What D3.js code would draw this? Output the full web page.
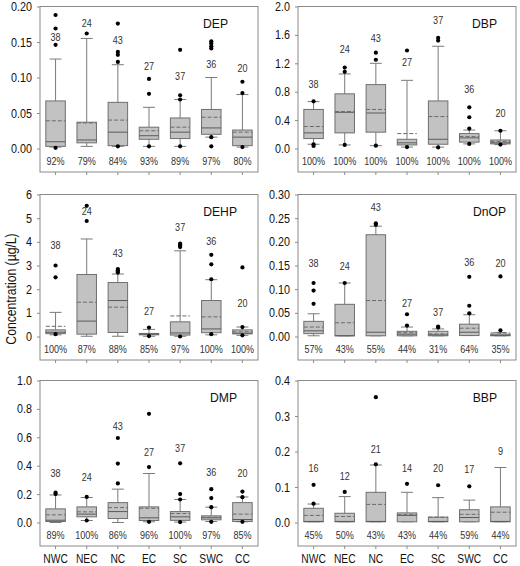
<!DOCTYPE html>
<html><head><meta charset="utf-8">
<script src="https://cdn.jsdelivr.net/npm/d3@7"></script>
<style>body{margin:0;background:#fff}svg{display:block}text{font-family:"Liberation Sans",Arial,sans-serif}</style>
</head><body>
<script>
// ---------- DATA ----------
const categories = ["NWC","NEC","NC","EC","SC","SWC","CC"];
const compounds = ["DEP","DBP","DEHP","DnOP","DMP","BBP"];
const yMax = [0.20, 2.0, 6, 0.30, 1.0, 0.4];
const yStep = [0.05, 0.4, 1, 0.05, 0.2, 0.1];
const yFormat = [".2f", ".1f", "d", ".2f", ".1f", ".1f"];

// each row: [whiskerLow, Q1, median, Q3, whiskerHigh, mean]
const depBox = [[0.002,0.003,0.0095,0.067,0.126,0.039],[0.003,0.008,0.012,0.037,0.155,0.036],[0.003,0.004,0.023,0.065,0.118,0.040],[0.003,0.013,0.018,0.030,0.058,0.025],[0.003,0.014,0.023,0.043,0.069,0.030],[0.016,0.020,0.029,0.055,0.100,0.044],[0.002,0.004,0.016,0.026,0.076,0.023]];
const depOut = [[0.188,0.169,0.146,0.001],[0.162],[0.176,0.136,0.132,0.122,0.003],[0.098,0.077,0.003],[0.139,0.075,0.069,0.003],[0.151,0.148,0.144,0.141,0.016,0.003],[0.094,0.078,0.002]];
const depN = [38,24,43,27,37,36,20];
const depNY = [0.157,0.177,0.152,0.116,0.102,0.118,0.113];
const depPct = [92,79,84,93,89,97,80];

const dbpBox = [[0.06,0.14,0.22,0.55,0.66,0.31],[0.05,0.22,0.51,0.77,1.05,0.52],[0.04,0.23,0.50,0.90,1.20,0.55],[0.02,0.05,0.08,0.13,0.96,0.21],[0.02,0.06,0.13,0.67,1.44,0.45],[0.065,0.09,0.15,0.21,0.26,0.17],[0.055,0.065,0.08,0.12,0.25,0.10]];
const dbpOut = [[0.665,0.06,0.035],[1.14,1.08,0.05],[1.35,1.25,0.04],[1.38,0.02],[1.56,1.52,0.015],[0.58,0.44,0.28,0.065],[0.25,0.055]];
const dbpN = [38,24,43,27,37,36,20];
const dbpNY = [0.90,1.40,1.55,1.21,1.80,0.83,0.50];
const dbpPct = [100,100,100,100,100,100,100];

const dehpBox = [[0.07,0.12,0.18,0.28,1.02,0.43],[0.01,0.10,0.65,2.62,4.12,1.45],[0.01,0.17,1.52,2.28,2.64,1.24],[0.01,0.07,0.10,0.13,0.30,0.11],[0.01,0.06,0.15,0.62,3.62,0.87],[0.07,0.16,0.32,1.52,2.40,0.83],[0.05,0.11,0.14,0.28,0.40,0.20]];
const dehpOut = [[3.0,2.5,0.1],[5.52,4.88],[2.85,2.80,2.75,2.70],[0.38,0.02],[3.93,3.88,3.83,3.78,0.0],[3.45,3.05,2.42,0.1],[2.92,0.40,0.05]];
const dehpN = [38,24,43,27,37,36,20];
const dehpNY = [3.84,5.3,3.5,1.07,4.63,4.03,1.40];
const dehpPct = [100,87,88,85,97,100,100];

const dnopBox = [[0.0015,0.006,0.012,0.032,0.048,0.020],[0.0015,0.0015,0.0015,0.068,0.113,0.029],[0.0015,0.0015,0.009,0.215,0.233,0.076],[0.0015,0.0015,0.005,0.011,0.020,0.008],[0.0015,0.0015,0.0035,0.011,0.016,0.0055],[0.002,0.002,0.009,0.026,0.046,0.0175],[0.0015,0.0015,0.0025,0.005,0.0085,0.0075]];
const dnopOut = [[0.113,0.097,0.069],[0.113],[0.239,0.236],[0.047,0.023],[0.021,0.019],[0.126,0.065,0.049],[0.127,0.013]];
const dnopN = [38,24,43,27,37,36,20];
const dnopNY = [0.154,0.148,0.272,0.071,0.051,0.156,0.155];
const dnopPct = [57,43,55,44,31,64,35];

const dmpBox = [[0.0,0.007,0.016,0.096,0.194,0.054],[0.014,0.04,0.059,0.11,0.176,0.075],[0.0,0.028,0.077,0.14,0.235,0.105],[0.005,0.014,0.033,0.11,0.345,0.10],[0.003,0.015,0.04,0.077,0.162,0.063],[0.007,0.019,0.033,0.047,0.108,0.037],[0.005,0.007,0.021,0.14,0.18,0.059]];
const dmpOut = [[0.21,0.20],[0.18,0.014],[0.595,0.415,0.275],[0.765,0.39,0.005],[0.417,0.2,0.162,0.003],[0.235,0.172,0.108,0.005],[0.218,0.178,0.005]];
const dmpN = [38,24,43,27,37,36,20];
const dmpNY = [0.344,0.32,0.674,0.496,0.52,0.35,0.344];
const dmpPct = [89,100,86,96,100,97,85];

const bbpBox = [[0.002,0.002,0.003,0.040,0.052,0.020],[0.002,0.002,0.003,0.026,0.073,0.017],[0.002,0.002,0.003,0.085,0.162,0.051],[0.002,0.002,0.020,0.027,0.085,0.022],[0.002,0.002,0.003,0.015,0.070,0.015],[0.002,0.002,0.014,0.036,0.063,0.023],[0.002,0.002,0.003,0.044,0.155,0.029]];
const bbpOut = [[0.106,0.053],[0.086],[0.353,0.164],[0.109],[0.105],[0.102],[]];
const bbpN = [16,12,21,14,20,17,9];
const bbpNY = [0.152,0.131,0.206,0.152,0.152,0.151,0.20];
const bbpPct = [45,50,43,43,44,59,44];

const boxes = [depBox,dbpBox,dehpBox,dnopBox,dmpBox,bbpBox];
const outs = [depOut,dbpOut,dehpOut,dnopOut,dmpOut,bbpOut];
const ns = [depN,dbpN,dehpN,dnopN,dmpN,bbpN];
const nys = [depNY,dbpNY,dehpNY,dnopNY,dmpNY,bbpNY];
const pcts = [depPct,dbpPct,dehpPct,dnopPct,dmpPct,bbpPct];

// ---------- LAYOUT ----------
const W = 520, H = 566;
const colLeft = [40, 298];
const rowTop = [6.5, 194.5, 380.5];
const plotW = 218, zeroOff = 142, belowZero = 23.5;
const titleRightPad = [30, 19, 21, 10, 21, 19];
const squeezeF = 0.86;

function squeeze(sel, f) {
  sel.each(function () {
    const L = this.getComputedTextLength();
    if (L > 0) d3.select(this).attr("textLength", L * f).attr("lengthAdjust", "spacingAndGlyphs");
  });
}

const svg = d3.select("body").append("svg").attr("width", W).attr("height", H);

compounds.forEach((name, pi) => {
  const col = pi % 2, row = Math.floor(pi / 2);
  const x0 = colLeft[col], top = rowTop[row];
  const zeroY = top + zeroOff, bottom = zeroY + belowZero;
  const g = svg.append("g");

  const x = d3.scaleBand().domain(categories).range([x0, x0 + plotW]).padding(0);
  const y = d3.scaleLinear().domain([0, yMax[pi]]).range([zeroY, top]);
  const bw = 19.5, cw = 12;

  // frame
  g.append("rect").attr("x", x0).attr("y", top).attr("width", plotW).attr("height", bottom - top)
    .attr("fill", "none").attr("stroke", "#8a8a8a").attr("stroke-width", 1);

  // y axis
  const ticks = d3.range(0, yMax[pi] + yStep[pi] / 2, yStep[pi]);
  const yAxis = d3.axisLeft(y).tickValues(ticks).tickFormat(d3.format(yFormat[pi])).tickSize(3).tickPadding(5);
  const ga = g.append("g").attr("transform", `translate(${x0},0)`).call(yAxis);
  ga.select(".domain").remove();
  ga.selectAll("line").attr("stroke", "#8a8a8a");
  ga.selectAll("text").attr("font-size", 12.5).attr("fill", "#111").style("font-family", '"Liberation Sans",Arial,sans-serif');
  squeeze(ga.selectAll("text"), squeezeF);

  // x axis ticks
  const xAxis = d3.axisBottom(x).tickSize(3).tickPadding(5).tickFormat(row === 2 ? (d => d) : () => "");
  const gx = g.append("g").attr("transform", `translate(0,${bottom})`).call(xAxis);
  gx.select(".domain").remove();
  gx.selectAll("line").attr("stroke", "#8a8a8a");
  gx.selectAll("text").attr("font-size", 12.5).attr("fill", "#111").style("font-family", '"Liberation Sans",Arial,sans-serif');
  squeeze(gx.selectAll("text"), 0.82);

  const box = boxes[pi];
  categories.forEach((c, i) => {
    const cx = x(c) + x.bandwidth() / 2;
    const [lo, q1, med, q3, hi, mean] = box[i];
    // whiskers
    g.append("line").attr("x1", cx).attr("x2", cx).attr("y1", y(q3)).attr("y2", y(hi)).attr("stroke", "#7a7a7a");
    g.append("line").attr("x1", cx).attr("x2", cx).attr("y1", y(q1)).attr("y2", y(lo)).attr("stroke", "#7a7a7a");
    g.append("line").attr("x1", cx - cw / 2).attr("x2", cx + cw / 2).attr("y1", y(hi)).attr("y2", y(hi)).attr("stroke", "#7a7a7a");
    g.append("line").attr("x1", cx - cw / 2).attr("x2", cx + cw / 2).attr("y1", y(lo)).attr("y2", y(lo)).attr("stroke", "#7a7a7a");
    // box
    g.append("rect").attr("x", cx - bw / 2).attr("y", y(q3)).attr("width", bw)
      .attr("height", Math.max(0.5, y(q1) - y(q3))).attr("fill", "#c2c2c2").attr("stroke", "#6f6f6f").attr("stroke-width", 1);
    // median
    g.append("line").attr("x1", cx - bw / 2).attr("x2", cx + bw / 2).attr("y1", y(med)).attr("y2", y(med)).attr("stroke", "#5a5a5a").attr("stroke-width", 1);
    // mean (dashed)
    g.append("line").attr("x1", cx - bw / 2).attr("x2", cx + bw / 2).attr("y1", y(mean)).attr("y2", y(mean))
      .attr("stroke", "#6a6a6a").attr("stroke-width", 1).attr("stroke-dasharray", "4,2");
    // outliers
    outs[pi][i].forEach(v => {
      g.append("circle").attr("cx", cx).attr("cy", y(v)).attr("r", 2.1).attr("fill", "#000");
    });
    // n label
    const tn = g.append("text").attr("x", cx).attr("y", y(nys[pi][i])).attr("dy", "0.35em").attr("text-anchor", "middle")
      .attr("font-size", 10.5).attr("fill", "#333").text(ns[pi][i]);
    squeeze(tn, squeezeF);
    // pct label
    const tp = g.append("text").attr("x", cx).attr("y", zeroY + 13).attr("dy", "0.35em").attr("text-anchor", "middle")
      .attr("font-size", 10.5).attr("fill", "#333").text(pcts[pi][i] + "%");
    squeeze(tp, squeezeF);
  });

  // title
  const tt = g.append("text").attr("x", x0 + plotW - titleRightPad[pi]).attr("y", top + 17).attr("dy", "0.35em")
    .attr("text-anchor", "end").attr("font-size", 13.5).attr("fill", "#111").text(name);
  squeeze(tt, 0.9);
});

// y-axis title
const yt = svg.append("text").attr("transform", "translate(11,289) rotate(-90)").attr("text-anchor", "middle").attr("dy", "0.35em")
  .attr("font-size", 14).attr("fill", "#111").text("Concentration (µg/L)");
squeeze(yt, 0.87);
</script>
</body></html>
